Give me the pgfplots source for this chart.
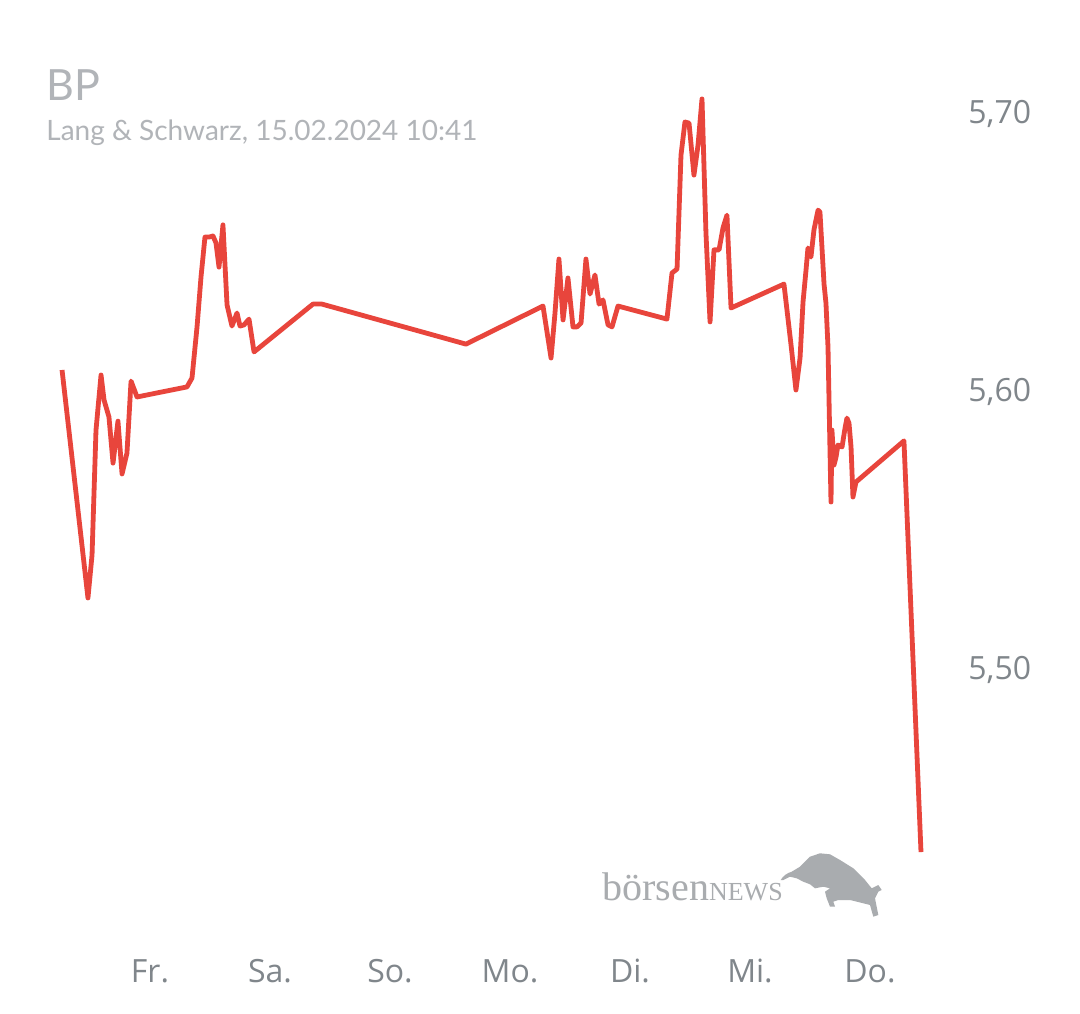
\documentclass[border=0pt]{standalone}
\usepackage{pgfplots}
\pgfplotsset{compat=1.18}
\usepackage{fontspec}
\setmainfont{Open Sans}
\newfontfamily\titlefont{Lato}
\newfontfamily\logofont{Liberation Serif}
\definecolor{linered}{HTML}{E8453C}
\definecolor{tickgray}{HTML}{80868B}
\definecolor{titlegray}{HTML}{B1B4B8}
\definecolor{logogray}{HTML}{A9ACAF}
\begin{document}
\begin{tikzpicture}
\useasboundingbox[fill=white] (0,0) rectangle (540pt,506.5pt);
\begin{axis}[
  at={(15pt,61.3pt)}, anchor=south west,
  width=450pt, height=417pt, scale only axis,
  xmin=-1, xmax=6.5, ymin=5.42, ymax=5.72,
  axis line style={draw=none}, tick style={draw=none},
  major tick length=0pt,
  xtick={0,1,2,3,4,5,6},
  xticklabels={Fr.,Sa.,So.,Mo.,Di.,Mi.,Do.},
  xticklabel style={font=\fontsize{16}{18}\selectfont, text=tickgray, anchor=base, inner sep=0pt, yshift=-45.8pt},
  ytick={5.5,5.6,5.7},
  yticklabel pos=right,
  yticklabels={5{,}50,5{,}60,5{,}70},
  yticklabel style={font=\fontsize{16}{18}\selectfont, text=tickgray, anchor=base west, inner sep=0pt, xshift=19pt, yshift=-5.7pt},
  clip=false,
]
\addplot[linered, line width=2.4pt, line join=round] table {
x y
-0.733 5.6072
-0.517 5.5252
-0.483 5.5406
-0.450 5.5856
-0.408 5.6054
-0.383 5.5964
-0.342 5.5903
-0.308 5.5737
-0.267 5.5888
-0.233 5.5698
-0.192 5.5773
-0.158 5.6032
-0.108 5.5975
0.308 5.6011
0.350 5.6043
0.392 5.6227
0.425 5.6406
0.458 5.6550
0.492 5.6550
0.525 5.6554
0.550 5.6529
0.575 5.6442
0.608 5.6594
0.642 5.6306
0.683 5.6230
0.725 5.6277
0.750 5.6230
0.783 5.6234
0.825 5.6255
0.867 5.6137
1.358 5.6309
1.433 5.6309
2.633 5.6165
3.275 5.6302
3.342 5.6115
3.375 5.6277
3.408 5.6471
3.442 5.6252
3.483 5.6403
3.525 5.6227
3.558 5.6227
3.592 5.6241
3.633 5.6471
3.667 5.6345
3.708 5.6414
3.742 5.6309
3.775 5.6324
3.817 5.6234
3.850 5.6227
3.900 5.6302
4.308 5.6255
4.350 5.6421
4.392 5.6435
4.425 5.6845
4.458 5.6964
4.492 5.6960
4.533 5.6773
4.567 5.6881
4.600 5.7047
4.633 5.6565
4.667 5.6245
4.700 5.6504
4.742 5.6504
4.775 5.6583
4.808 5.6629
4.842 5.6295
5.283 5.6381
5.342 5.6162
5.383 5.6000
5.417 5.6115
5.442 5.6317
5.467 5.6432
5.483 5.6511
5.508 5.6478
5.533 5.6576
5.567 5.6647
5.583 5.6640
5.600 5.6511
5.617 5.6381
5.633 5.6313
5.650 5.6155
5.675 5.5597
5.683 5.5856
5.700 5.5730
5.717 5.5759
5.733 5.5802
5.767 5.5795
5.792 5.5863
5.808 5.5899
5.825 5.5881
5.842 5.5795
5.858 5.5615
5.883 5.5669
6.283 5.5817
6.425 5.4338
};
\end{axis}
\begin{scope}[x=0.5pt,y=-0.5pt,yshift=506.5pt]
\node[anchor=base west, inner sep=0pt, text=titlegray, font=\titlefont\fontsize{21.5}{24}\selectfont] at (46,101) {BP};
\node[anchor=base west, inner sep=0pt, text=titlegray, font=\titlefont\fontsize{14}{16}\selectfont] at (46,141) {Lang \& Schwarz, 15.02.2024 10:41};
\node[anchor=base west, inner sep=0pt, text=logogray, font=\logofont\fontsize{20}{22}\selectfont] at (602,900) {börsen{\fontsize{13}{14}\selectfont NEWS}};
\fill[logogray] (780.7,880) .. controls (783,876) and (787,873) .. (791.7,871.7) -- (800,866.7) -- (810,856.7) -- (820,853.3) -- (830,854.3) -- (840,860) -- (853.3,868.3) -- (865,880) -- (871.7,888.3) -- (875,886.7) -- (878.3,885) -- (881.7,890) -- (878.3,891.7) -- (875,898.3) -- (878.3,915) -- (873.3,916.7) -- (870,905) -- (863.3,903.3) -- (850,900) -- (838.3,900) -- (833.3,901.7) -- (835,906.7) -- (830,906.7) -- (826.7,898.3) -- (825,891.7) -- (830,888.3) -- (823.3,886.7) -- (815,888.3) -- (810,884.3) -- (803.3,881.7) -- (796.7,878.3) -- (790,876.7) -- (783.3,880) -- cycle;
\end{scope}
\end{tikzpicture}
\end{document}
